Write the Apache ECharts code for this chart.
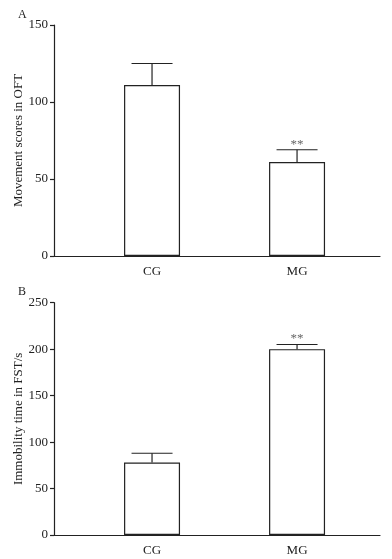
<!DOCTYPE html>
<html>
<head>
<meta charset="utf-8">
<script src="https://cdn.jsdelivr.net/npm/echarts@6/dist/echarts.min.js"></script>
<style>
  html, body { margin: 0; padding: 0; background: #fff; }
  #chart { width: 392px; height: 559px; }
</style>
</head>
<body>
<div id="chart"></div>
<script>
const categories = ['CG', 'MG']
// panel A - open field test
const oftMean = [111, 61]
const oftErr = [14, 8]
const oftSig = ['', '**']
const oftTicks = [0, 50, 100, 150]
// panel B - forced swim test
const fstMean = [78, 200]
const fstErr = [10, 5]
const fstSig = ['', '**']
const fstTicks = [0, 50, 100, 150, 200, 250]

const font = 'Liberation Serif, Times New Roman, serif'
const ink = '#222'

const myChart = echarts.init(document.getElementById('chart'))

const xAxis = (idx) => ({
    gridIndex: idx,
    type: 'value',
    min: -0.676,
    max: 1.572,
    splitLine: {show: false},
    axisTick: {show: false},
    axisLine: {show: true, onZero: false, lineStyle: {color: ink, width: 1.2}},
    axisLabel: {
        customValues: categories.map((c, i) => i),
        formatter: v => categories[Math.round(v)],
        fontFamily: font,
        fontSize: 13,
        color: ink,
        margin: 9
    }
})

const yAxis = (idx, ticks, name) => ({
    gridIndex: idx,
    type: 'value',
    min: ticks[0],
    max: ticks[ticks.length - 1],
    interval: ticks[1] - ticks[0],
    name: name,
    nameLocation: 'middle',
    nameGap: 29,
    nameMoveOverlap: false,
    nameTextStyle: {fontFamily: font, fontSize: 13, color: ink},
    splitLine: {show: false},
    axisLine: {show: true, onZero: false, lineStyle: {color: ink, width: 1.2}},
    axisTick: {show: true, length: 4, lineStyle: {color: ink, width: 1.2}},
    axisLabel: {fontFamily: font, fontSize: 13, color: ink, margin: 6}
})

const bars = (idx, mean) => ({
    type: 'bar',
    xAxisIndex: idx,
    yAxisIndex: idx,
    barWidth: 56,
    data: mean.map((m, i) => [i, m]),
    itemStyle: {color: '#fff', borderColor: ink, borderWidth: 1.2}
})

const errors = (idx, mean, err, sig) => ({
    type: 'custom',
    xAxisIndex: idx,
    yAxisIndex: idx,
    z: 5,
    data: mean.map((m, i) => [i, m, err[i]]),
    renderItem: function (params, api) {
        const x = api.value(0)
        const m = api.value(1)
        const e = api.value(2)
        const p0 = api.coord([x, m])
        const p1 = api.coord([x, m + e])
        const stroke = {stroke: ink, lineWidth: 1.2}
        const children = [
            {type: 'line', shape: {x1: p0[0], y1: p0[1], x2: p1[0], y2: p1[1]}, style: stroke},
            {type: 'line', shape: {x1: p1[0] - 20.5, y1: p1[1], x2: p1[0] + 20.5, y2: p1[1]}, style: stroke}
        ]
        if (sig[params.dataIndex]) {
            children.push({
                type: 'text',
                style: {
                    x: p1[0], y: p1[1] + 1,
                    text: sig[params.dataIndex],
                    fontFamily: font, fontSize: 13, fill: '#666',
                    align: 'center', verticalAlign: 'bottom'
                }
            })
        }
        return {type: 'group', children: children}
    }
})

myChart.setOption({
    animation: false,
    backgroundColor: '#fff',
    title: [
        {text: 'A', left: 13, top: 4, textStyle: {fontFamily: font, fontSize: 12, fontWeight: 'normal', color: ink}},
        {text: 'B', left: 13, top: 281, textStyle: {fontFamily: font, fontSize: 12, fontWeight: 'normal', color: ink}}
    ],
    grid: [
        {left: 54, right: 12, top: 25, height: 231, outerBoundsMode: 'none'},
        {left: 54, right: 12, top: 302.7, height: 232.3, outerBoundsMode: 'none'}
    ],
    xAxis: [xAxis(0), xAxis(1)],
    yAxis: [
        yAxis(0, oftTicks, 'Movement scores in OFT'),
        yAxis(1, fstTicks, 'Immobility time in FST/s')
    ],
    series: [
        bars(0, oftMean),
        errors(0, oftMean, oftErr, oftSig),
        bars(1, fstMean),
        errors(1, fstMean, fstErr, fstSig)
    ]
})
</script>
</body>
</html>
